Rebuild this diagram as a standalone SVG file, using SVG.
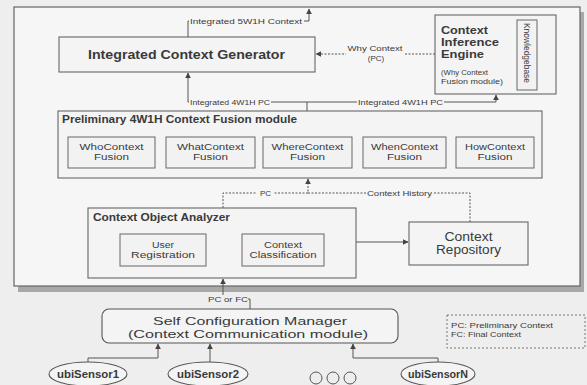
<svg xmlns="http://www.w3.org/2000/svg" width="587" height="385" viewBox="0 0 587 385">
<defs>
<marker id="ah" viewBox="0 0 10 10" refX="9" refY="5" markerWidth="6" markerHeight="6" orient="auto" markerUnits="userSpaceOnUse">
<path d="M0,0 L10,5 L0,10 z" fill="#444"/>
</marker>
<style>
text{font-family:"Liberation Sans",Arial,sans-serif;fill:#3a3a3a}
.box{fill:#f4f4f4;stroke:#666;stroke-width:1.1}
.ibox{fill:#f2f2f2;stroke:#666;stroke-width:1}
.ln{fill:none;stroke:#555;stroke-width:1}
.dot{fill:none;stroke:#555;stroke-width:1;stroke-dasharray:2 1.5}
.lbl{font-size:8px}
.sm{font-size:8.5px}
.bg{fill:#f6f6f6}
.c{text-anchor:middle}
.ell{fill:#f4f4f4;stroke:#555;stroke-width:1.1}
.sens{font-size:10px;font-weight:bold}
</style>
</defs>
<rect width="587" height="385" fill="#eeeeee"/>
<rect x="18" y="12" width="566" height="280" fill="#a8a8a8"/>
<rect x="14" y="7" width="566" height="279" fill="#f6f6f6" stroke="#666" stroke-width="1.2"/>

<g id="connectors">
<path class="ln" d="M188,37 V21 H309 V9" marker-end="url(#ah)"/>
<path class="dot" d="M435,54 H316" marker-end="url(#ah)"/>
<path class="ln" d="M307,111 V102 H188 V73" marker-end="url(#ah)"/>
<path class="ln" d="M307,102 H496 V95" marker-end="url(#ah)"/>
<path class="dot" d="M223,208 V193 H308 V179" marker-end="url(#ah)"/>
<path class="dot" d="M470,222 V193 H308"/>
<path class="ln" d="M356,242 H408" marker-end="url(#ah)"/>
<path class="ln" d="M250,309 V299 H223 V279" marker-end="url(#ah)"/>
<path class="ln" d="M88,362 V358 H158 V344" marker-end="url(#ah)"/>
<path class="ln" d="M210,362 V344" marker-end="url(#ah)"/>
<path class="ln" d="M438,362 V358 H353 V344" marker-end="url(#ah)"/>
<rect class="bg" x="189" y="16" width="115" height="10"/>
<text class="lbl" x="190" y="24" textLength="112" lengthAdjust="spacingAndGlyphs">Integrated 5W1H Context</text>
<rect class="bg" x="346" y="44" width="58" height="20"/>
<text class="lbl c" x="375" y="51" textLength="55" lengthAdjust="spacingAndGlyphs">Why Context</text>
<text class="lbl c" x="376" y="61">(PC)</text>
<rect class="bg" x="189" y="97" width="82" height="10"/>
<text class="lbl" x="190" y="105" textLength="80" lengthAdjust="spacingAndGlyphs">Integrated 4W1H PC</text>
<rect class="bg" x="357" y="97" width="87" height="10"/>
<text class="lbl" x="358" y="105" textLength="85" lengthAdjust="spacingAndGlyphs">Integrated 4W1H PC</text>
<rect class="bg" x="257" y="188" width="17" height="10"/>
<text class="lbl c" x="265.5" y="196">PC</text>
<rect class="bg" x="366" y="188" width="67" height="10"/>
<text class="lbl" x="367" y="196" textLength="65" lengthAdjust="spacingAndGlyphs">Context History</text>
<rect fill="#eeeeee" x="207" y="295" width="41" height="10"/>
<text class="lbl" x="208" y="302" textLength="40" lengthAdjust="spacingAndGlyphs">PC or FC</text>
</g>

<g id="icg">
<rect class="box" x="59" y="37" width="256" height="35"/>
<text x="88" y="59" font-size="12.5" font-weight="bold" textLength="197" lengthAdjust="spacingAndGlyphs">Integrated Context Generator</text>
</g>

<g id="cie">
<rect class="box" x="435" y="15" width="121" height="79"/>
<text x="441" y="34" font-size="11.5" font-weight="bold" textLength="47" lengthAdjust="spacingAndGlyphs">Context</text>
<text x="441" y="46" font-size="11.5" font-weight="bold" textLength="58" lengthAdjust="spacingAndGlyphs">Inference</text>
<text x="441" y="58" font-size="11.5" font-weight="bold" textLength="43" lengthAdjust="spacingAndGlyphs">Engine</text>
<text x="441" y="75" font-size="7.5" textLength="47" lengthAdjust="spacingAndGlyphs">(Why Context</text>
<text x="441" y="84" font-size="7.5" textLength="62" lengthAdjust="spacingAndGlyphs">Fusion module)</text>
</g>

<g id="knowledgebase">
<rect class="ibox" x="517" y="20" width="20" height="70"/>
<text class="c" transform="translate(524,53) rotate(90)" font-size="8.5" textLength="60" lengthAdjust="spacingAndGlyphs">Knowledgebase</text>
</g>

<g id="preliminary">
<rect class="box" x="58" y="111" width="484" height="67"/>
<text x="62" y="123" font-size="11" font-weight="bold" textLength="235" lengthAdjust="spacingAndGlyphs">Preliminary 4W1H Context Fusion module</text>
</g>
<g id="who">
<rect class="ibox" x="68" y="137" width="87" height="31"/>
<text class="sm c" x="111.5" y="150" textLength="64" lengthAdjust="spacingAndGlyphs">WhoContext</text>
<text class="sm c" x="111.5" y="160" textLength="35" lengthAdjust="spacingAndGlyphs">Fusion</text>
</g>
<g id="what">
<rect class="ibox" x="166" y="137" width="89" height="31"/>
<text class="sm c" x="210.5" y="150" textLength="67" lengthAdjust="spacingAndGlyphs">WhatContext</text>
<text class="sm c" x="210.5" y="160" textLength="35" lengthAdjust="spacingAndGlyphs">Fusion</text>
</g>
<g id="where">
<rect class="ibox" x="263" y="137" width="89" height="31"/>
<text class="sm c" x="307.5" y="150" textLength="72" lengthAdjust="spacingAndGlyphs">WhereContext</text>
<text class="sm c" x="307.5" y="160" textLength="35" lengthAdjust="spacingAndGlyphs">Fusion</text>
</g>
<g id="when">
<rect class="ibox" x="363" y="137" width="83" height="31"/>
<text class="sm c" x="404.5" y="150" textLength="67" lengthAdjust="spacingAndGlyphs">WhenContext</text>
<text class="sm c" x="404.5" y="160" textLength="35" lengthAdjust="spacingAndGlyphs">Fusion</text>
</g>
<g id="how">
<rect class="ibox" x="456" y="137" width="78" height="31"/>
<text class="sm c" x="495" y="150" textLength="60" lengthAdjust="spacingAndGlyphs">HowContext</text>
<text class="sm c" x="495" y="160" textLength="35" lengthAdjust="spacingAndGlyphs">Fusion</text>
</g>

<g id="coa">
<rect class="box" x="88" y="208" width="268" height="70"/>
<text x="93" y="221" font-size="10.5" font-weight="bold" textLength="137" lengthAdjust="spacingAndGlyphs">Context Object Analyzer</text>
</g>
<g id="userreg">
<rect class="ibox" x="120" y="234" width="86" height="32"/>
<text class="sm c" x="163" y="248" textLength="22" lengthAdjust="spacingAndGlyphs">User</text>
<text class="sm c" x="163" y="258" textLength="64" lengthAdjust="spacingAndGlyphs">Registration</text>
</g>
<g id="classification">
<rect class="ibox" x="242" y="234" width="82" height="32"/>
<text class="sm c" x="283" y="248" textLength="38" lengthAdjust="spacingAndGlyphs">Context</text>
<text class="sm c" x="283" y="258" textLength="67" lengthAdjust="spacingAndGlyphs">Classification</text>
</g>

<g id="repository">
<rect class="box" x="409" y="222" width="119" height="43"/>
<text class="c" x="468.5" y="241" font-size="12" textLength="48" lengthAdjust="spacingAndGlyphs">Context</text>
<text class="c" x="468.5" y="254" font-size="12" textLength="65" lengthAdjust="spacingAndGlyphs">Repository</text>
</g>

<g id="scm">
<rect x="102" y="309" width="296" height="34" rx="7" fill="#f4f4f4" stroke="#555" stroke-width="1.1"/>
<text class="c" x="250" y="325" font-size="11.5" textLength="194" lengthAdjust="spacingAndGlyphs">Self Configuration Manager</text>
<text class="c" x="248" y="338" font-size="11.5" textLength="240" lengthAdjust="spacingAndGlyphs">(Context Communication module)</text>
</g>

<g id="legend">
<rect x="447" y="315" width="138" height="33" fill="none" stroke="#777" stroke-width="1" stroke-dasharray="2 2"/>
<text x="451" y="328" font-size="7.5" textLength="102" lengthAdjust="spacingAndGlyphs">PC: Preliminary Context</text>
<text x="451" y="337" font-size="7.5" textLength="70" lengthAdjust="spacingAndGlyphs">FC: Final Context</text>
</g>

<g id="sensor1">
<ellipse class="ell" cx="88" cy="374" rx="39" ry="12"/>
<text class="sens c" x="88" y="377.5" textLength="62" lengthAdjust="spacingAndGlyphs">ubiSensor1</text>
</g>
<g id="sensor2">
<ellipse class="ell" cx="208" cy="374" rx="40" ry="12"/>
<text class="sens c" x="208" y="377.5" textLength="62" lengthAdjust="spacingAndGlyphs">ubiSensor2</text>
</g>
<g id="dots">
<circle cx="316" cy="378" r="6" fill="none" stroke="#555" stroke-width="1"/>
<circle cx="333" cy="378" r="6" fill="none" stroke="#555" stroke-width="1"/>
<circle cx="350" cy="378" r="6" fill="none" stroke="#555" stroke-width="1"/>
</g>
<g id="sensorN">
<ellipse class="ell" cx="438" cy="374" rx="37" ry="12"/>
<text class="sens c" x="438" y="377.5" textLength="60" lengthAdjust="spacingAndGlyphs">ubiSensorN</text>
</g>
</svg>
